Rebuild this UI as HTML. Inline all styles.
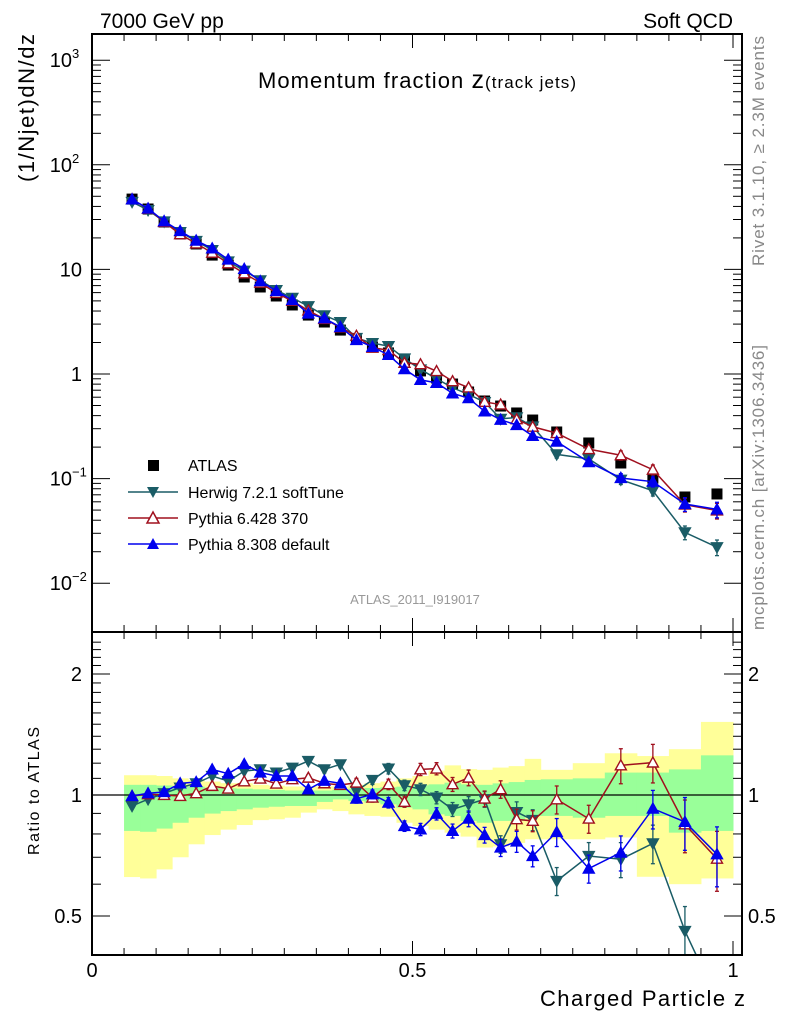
<!DOCTYPE html>
<html><head><meta charset="utf-8"><style>
body{margin:0;background:#fff;}
svg{display:block;font-family:"Liberation Sans",sans-serif;}
</style></head><body>
<svg id="c" width="786" height="1024" xmlns="http://www.w3.org/2000/svg"></svg>
<script>
const zLo=[0.05,0.075,0.1,0.125,0.15,0.175,0.2,0.225,0.25,0.275,0.3,0.325,0.35,0.375,0.4,0.425,0.45,0.475,0.5,0.525,0.55,0.575,0.6,0.625,0.65,0.675,0.7,0.75,0.8,0.85,0.9,0.95];
const zHi=[0.075,0.1,0.125,0.15,0.175,0.2,0.225,0.25,0.275,0.3,0.325,0.35,0.375,0.4,0.425,0.45,0.475,0.5,0.525,0.55,0.575,0.6,0.625,0.65,0.675,0.7,0.75,0.8,0.85,0.9,0.95,1.0];
const atlas=[47,37.8,28.4,21.8,17.5,13.7,11.0,8.46,6.79,5.57,4.57,3.66,3.14,2.63,2.16,1.81,1.59,1.33,1.07,0.916,0.802,0.673,0.552,0.494,0.424,0.363,0.279,0.219,0.141,0.101,0.0667,0.0713];
const yelHi=[1.12,1.12,1.115,1.10,1.09,1.08,1.07,1.07,1.06,1.055,1.05,1.05,1.05,1.05,1.06,1.07,1.08,1.10,1.115,1.15,1.185,1.16,1.155,1.17,1.18,1.23,1.155,1.20,1.27,1.25,1.30,1.52];
const yelLo=[0.625,0.62,0.653,0.70,0.754,0.795,0.82,0.842,0.866,0.87,0.878,0.904,0.921,0.912,0.895,0.887,0.883,0.853,0.837,0.82,0.806,0.788,0.74,0.745,0.76,0.776,0.776,0.776,0.784,0.626,0.60,0.62];
const grnHi=[1.06,1.06,1.056,1.05,1.049,1.043,1.039,1.037,1.033,1.03,1.026,1.026,1.026,1.03,1.037,1.041,1.045,1.049,1.057,1.063,1.073,1.063,1.06,1.069,1.077,1.09,1.094,1.10,1.137,1.137,1.158,1.255];
const grnLo=[0.814,0.81,0.825,0.853,0.878,0.899,0.912,0.921,0.93,0.935,0.939,0.939,0.961,0.975,0.966,0.957,0.948,0.93,0.921,0.895,0.887,0.862,0.853,0.862,0.862,0.887,0.887,0.878,0.887,0.887,0.806,0.814];
const herwig=[0.939,0.976,1.01,1.043,1.069,1.115,1.083,1.147,1.158,1.137,1.169,1.215,1.158,1.192,1.023,1.09,1.163,1.057,1.033,0.985,0.921,0.948,0.976,0.754,0.907,0.867,0.611,0.705,0.692,0.758,0.459,0.31];
const pythia6=[0.994,1.004,1.0,0.994,1.01,1.053,1.037,1.081,1.098,1.067,1.094,1.104,1.069,1.059,1.073,0.985,1.063,0.961,1.158,1.163,1.063,1.104,0.979,1.033,0.870,0.862,0.975,0.873,1.185,1.204,0.845,0.694];
const pythia8=[0.994,1.01,1.017,1.069,1.077,1.158,1.13,1.194,1.137,1.115,1.115,1.033,1.085,1.069,0.979,1.004,0.957,0.837,0.821,0.898,0.814,0.873,0.795,0.74,0.766,0.705,0.809,0.656,0.719,0.925,0.857,0.712];
const relErr=[0.01,0.01,0.01,0.01,0.01,0.01,0.01,0.012,0.012,0.015,0.015,0.018,0.02,0.02,0.025,0.025,0.03,0.03,0.035,0.035,0.04,0.045,0.045,0.05,0.06,0.06,0.08,0.08,0.1,0.11,0.15,0.17];
const xTicks=[0,0.5,1];
const ratioTicks=[0.5,1,2];
const mainDecades=[-2,-1,0,1,2,3];

const NS="http://www.w3.org/2000/svg";
const svg=document.getElementById('c');
const L=92,R=742,T=34,MB=632,RB=955;
const X=z=>92+641*z;
const YM=v=>374-104.6*Math.log10(v);
const YR=r=>795-121*Math.log2(r);
function el(tag,attrs,parent){const e=document.createElementNS(NS,tag);for(const k in attrs)e.setAttribute(k,attrs[k]);(parent||svg).appendChild(e);return e;}
function txt(s,attrs,parent){const e=el('text',attrs,parent);e.textContent=s;return e;}
const gRatio=el('g',{});


for(let i=0;i<zLo.length;i++){
 const x0=X(zLo[i]),x1=X(zHi[i]);
 const yb=el('rect',{x:x0,y:YR(yelHi[i]),width:x1-x0+0.5,height:YR(yelLo[i])-YR(yelHi[i]),fill:'#ffff99'},gRatio);
 
 
}
for(let i=0;i<zLo.length;i++){
 const x0=X(zLo[i]),x1=X(zHi[i]);
 const gb=el('rect',{x:x0,y:YR(grnHi[i]),width:x1-x0+0.5,height:YR(grnLo[i])-YR(grnHi[i]),fill:'#99ff99'},gRatio);
 
 
}
el('line',{x1:L,x2:R,y1:YR(1),y2:YR(1),stroke:'#000','stroke-width':1.3},gRatio);

const series=[
 {name:'herwig',vals:herwig,col:'#1a5c66',mk:'down',fill:true},
 {name:'pythia6',vals:pythia6,col:'#a0101e',mk:'up',fill:false},
 {name:'pythia8',vals:pythia8,col:'#0000ee',mk:'up',fill:true}];
function marker(g,cx,cy,s,name){
 const sz=5.5;let p;
 if(s.mk==='up')p=`${cx},${cy-sz} ${cx-sz},${cy+sz*0.8} ${cx+sz},${cy+sz*0.8}`;
 else p=`${cx},${cy+sz} ${cx-sz},${cy-sz*0.8} ${cx+sz},${cy-sz*0.8}`;
 const m=el('polygon',{points:p,fill:s.fill?s.col:'#fff',stroke:s.col,'stroke-width':1.4},g);
 
 
}
function drawSeries(g,s,yf,vf,clipTop,clipBot,panel){
 const pts=[];
 for(let i=0;i<zLo.length;i++){pts.push([X((zLo[i]+zHi[i])/2),yf(vf(i))]);}
 const pl=el('polyline',{points:pts.map(p=>p.join(',')).join(' '),fill:'none',stroke:s.col,'stroke-width':1.5},g);
 
 
 for(let i=0;i<pts.length;i++){
  const v=vf(i),e=relErr[i];
  const y1=yf(v*(1+e)),y2=yf(v*(1-e));
  el('line',{x1:pts[i][0],x2:pts[i][0],y1:y1,y2:y2,stroke:s.col,'stroke-width':1.3},g);
  el('line',{x1:pts[i][0]-2,x2:pts[i][0]+2,y1:y1,y2:y1,stroke:s.col,'stroke-width':1.3},g);
  el('line',{x1:pts[i][0]-2,x2:pts[i][0]+2,y1:y2,y2:y2,stroke:s.col,'stroke-width':1.3},g);
  if(pts[i][1]>clipTop&&pts[i][1]<clipBot)marker(g,pts[i][0],pts[i][1],s,s.name+'-'+panel+'-point');
 }
}
const cr=el('clipPath',{id:'cr'});el('rect',{x:L,y:MB,width:R-L,height:RB-MB},cr);
const gR2=el('g',{'clip-path':'url(#cr)'},gRatio);
series.forEach(s=>drawSeries(gR2,s,YR,i=>s.vals[i],MB,RB,'ratio'));

const gMain=el('g',{});


for(let i=0;i<zLo.length;i++){
 const cx=X((zLo[i]+zHi[i])/2),cy=YM(atlas[i]);
 const sq=el('rect',{x:cx-5.5,y:cy-5.5,width:11,height:11,fill:'#000'},gMain);
 
 
}
series.forEach(s=>drawSeries(gMain,s,YM,i=>atlas[i]*s.vals[i],T,MB,'main'));

el('rect',{x:L,y:T,width:R-L,height:MB-T,fill:'none',stroke:'#000','stroke-width':2});
el('rect',{x:L,y:MB,width:R-L,height:RB-MB,fill:'none',stroke:'#000','stroke-width':2});
for(let k=0;k<=20;k++){
 const z=k*0.05,x=X(z);if(x>R)continue;const len=(k%10===0)?14:7;
 [T,MB].forEach(y=>el('line',{x1:x,x2:x,y1:y,y2:y+len,stroke:'#000','stroke-width':1}));
 [MB,RB].forEach(y=>el('line',{x1:x,x2:x,y1:y,y2:y-len,stroke:'#000','stroke-width':1}));
}
xTicks.forEach(v=>{const t=txt(String(v),{x:X(v),y:977,'font-size':20,'text-anchor':'middle'});});
mainDecades.forEach(d=>{
 for(let m=1;m<10;m++){const y=YM(m*Math.pow(10,d));if(y<T||y>MB)continue;const len=m===1?18:9;
  el('line',{x1:L,x2:L+len,y1:y,y2:y,stroke:'#000'});el('line',{x1:R,x2:R-len,y1:y,y2:y,stroke:'#000'});}
 const y=YM(Math.pow(10,d));
 let t;
 if(d===0)t=txt('1',{x:82,y:y+7,'font-size':20,'text-anchor':'end'});
 else if(d===1)t=txt('10',{x:82,y:y+7,'font-size':20,'text-anchor':'end'});
 else{t=txt('10',{x:72,y:y+7,'font-size':20,'text-anchor':'end'});const sp=el('tspan',{x:72,dy:-9,'font-size':13,'text-anchor':'start'},t);sp.textContent=(d<0?'−':'')+Math.abs(d);}
 
});
for(let v=0.4;v<=2.5;v+=0.1){const r=Math.round(v*10)/10;const y=YR(r);if(y<MB||y>RB)continue;const big=(r===0.5||r===1||r===2);const len=big?18:9;
 el('line',{x1:L,x2:L+len,y1:y,y2:y,stroke:'#000'});el('line',{x1:R,x2:R-len,y1:y,y2:y,stroke:'#000'});}
ratioTicks.forEach(v=>{const y=YR(v)+7;
 let a=txt(String(v),{x:82,y:y,'font-size':20,'text-anchor':'end'});
 let b=txt(String(v),{x:748,y:y,'font-size':20});});
</script>
<svg width="786" height="1024" style="position:absolute;left:0;top:0" font-family="Liberation Sans, sans-serif">
<text x="100" y="28" font-size="21">7000 GeV pp</text>
<text x="733" y="28" font-size="21" text-anchor="end">Soft QCD</text>
<text x="258" y="88" font-size="22" textLength="318">Momentum fraction <tspan font-size="25">z</tspan><tspan font-size="17">(track jets)</tspan></text>
<text transform="translate(34,182) rotate(-90)" font-size="22" textLength="148">(1/Njet)dN/dz</text>
<text transform="translate(39,855) rotate(-90)" font-size="16" textLength="128">Ratio to ATLAS</text>
<text x="745" y="1006" font-size="22" text-anchor="end" textLength="205">Charged Particle z</text>
<text transform="translate(764,266) rotate(-90)" font-size="17" fill="#888" textLength="230">Rivet 3.1.10, ≥ 2.3M events</text>
<text transform="translate(764,630) rotate(-90)" font-size="17" fill="#888" textLength="285">mcplots.cern.ch [arXiv:1306.3436]</text>
<text x="415" y="604" font-size="13" fill="#999" text-anchor="middle">ATLAS_2011_I919017</text>
<g font-size="16">
<rect x="148" y="460" width="11" height="11" fill="#000"/>
<text x="188" y="471">ATLAS</text>
<line x1="128" x2="178" y1="492" y2="492" stroke="#1a5c66" stroke-width="1.5"/>
<polygon points="153,498 147,487 159,487" fill="#1a5c66"/>
<text x="188" y="498">Herwig 7.2.1 softTune</text>
<line x1="128" x2="178" y1="518" y2="518" stroke="#a0101e" stroke-width="1.5"/>
<polygon points="153,512 147,523 159,523" fill="#fff" stroke="#a0101e" stroke-width="1.5"/>
<text x="188" y="524">Pythia 6.428 370</text>
<line x1="128" x2="178" y1="544" y2="544" stroke="#0000ee" stroke-width="1.5"/>
<polygon points="153,538 147,549 159,549" fill="#0000ee"/>
<text x="188" y="550">Pythia 8.308 default</text>
</g>
</svg>
</body></html>
